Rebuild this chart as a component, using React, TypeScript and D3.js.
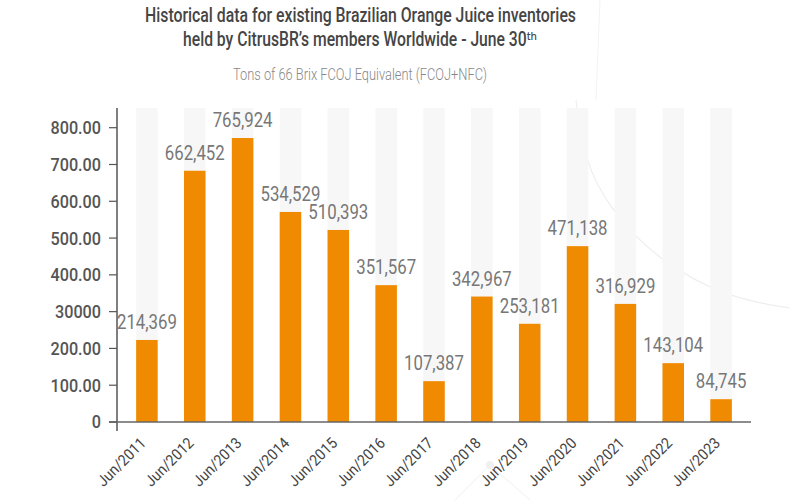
import React from "react";
import * as d3 from "d3";

const categories = ["Jun/2011","Jun/2012","Jun/2013","Jun/2014","Jun/2015","Jun/2016","Jun/2017","Jun/2018","Jun/2019","Jun/2020","Jun/2021","Jun/2022","Jun/2023"];
// bar heights as drawn (axis units)
const barValues = [223, 683, 772, 571, 522, 372, 111, 341, 267, 478, 321, 160, 62];
// value labels as printed
const valueLabels = ["214,369","662,452","765,924","534,529","510,393","351,567","107,387","342,967","253,181","471,138","316,929","143,104","84,745"];
const yTicks = [0, 100, 200, 300, 400, 500, 600, 700, 800];
const yTickLabels = ["0","100.00","200.00","30000","400.00","500.00","600.00","700.00","800.00"];

const titleLines = ["Historical data for existing Brazilian Orange Juice inventories", "held by CitrusBR\u2019s members Worldwide - June 30\u1D57\u02B0"];
const subtitle = "Tons of 66 Brix FCOJ Equivalent (FCOJ+NFC)";

const W = 800, H = 500;
const margin = { left: 117, right: 49, top: 108, bottom: 78 };
const font = "Roboto, 'Noto Sans', 'DejaVu Sans', sans-serif";

export default function App() {
  const x = d3.scaleBand<string>().domain(categories).range([margin.left, W - margin.right]).paddingInner(0.55).paddingOuter(0.4);
  const y = d3.scaleLinear().domain([0, 800]).range([422, 127.7]);
  const bandTop = margin.top;
  const arc = d3.line<[number, number]>().curve(d3.curveBasis)([[576, 100], [584, 160], [610, 210], [660, 262], [728, 298], [790, 308]]);

  return (
    <svg width={W} height={H} style={{ position: "absolute", left: 0, top: 0, background: "#fff" }}>
      <rect width={W} height={H} fill="#fff" />
      <path d={arc || ""} fill="none" stroke="#eeeeee" strokeWidth={1.2} />
      <line x1={600} y1={0} x2={596} y2={100} stroke="#f2f2f2" strokeWidth={1} />
      <line x1={455} y1={500} x2={490} y2={465} stroke="#f0f0f0" strokeWidth={1} />
      <line x1={490} y1={465} x2={530} y2={500} stroke="#f0f0f0" strokeWidth={1} />
      <circle cx={490} cy={465} r={4} fill="#f0f0f0" />

      {/* title */}
      <text x={145} y={22} textLength={431} lengthAdjust="spacingAndGlyphs" fontFamily={font} fontWeight={500} fontSize={20} fill="#454545">{titleLines[0]}</text>
      <text x={183} y={46} textLength={354} lengthAdjust="spacingAndGlyphs" fontFamily={font} fontWeight={500} fontSize={20} fill="#454545">{titleLines[1]}</text>
      <text x={233} y={80} textLength={254} lengthAdjust="spacingAndGlyphs" fontFamily={font} fontWeight={300} fontSize={16} fill="#888">{subtitle}</text>

      {/* background bands */}
      {categories.map((c) => (
        <rect key={"bg" + c} x={x(c)} y={bandTop} width={x.bandwidth()} height={y(0) - bandTop} fill="#f7f7f7" />
      ))}
      {/* bars */}
      {categories.map((c, i) => (
        <rect key={"b" + c} x={x(c)} y={y(barValues[i])} width={x.bandwidth()} height={y(0) - y(barValues[i])} fill="#f08a00" />
      ))}
      {/* value labels */}
      {categories.map((c, i) => (
        <text key={"v" + c} transform={`translate(${(x(c) as number) + x.bandwidth() / 2},${y(barValues[i]) - 11}) scale(0.8,1)`} textAnchor="middle"
          fontFamily={font} fontSize={21} fill="#777">{valueLabels[i]}</text>
      ))}

      {/* axes */}
      <line x1={margin.left} y1={bandTop} x2={margin.left} y2={431} stroke="#555" strokeWidth={1.5} />
      <line x1={109} y1={y(0)} x2={W - margin.right} y2={y(0)} stroke="#666" strokeWidth={1.5} />
      {yTicks.map((t, i) => (
        <g key={"yt" + t}>
          <line x1={109} x2={margin.left} y1={y(t)} y2={y(t)} stroke="#555" strokeWidth={1.2} />
          <text transform={`translate(101,${y(t)}) scale(0.9,1)`} dy="0.36em" textAnchor="end" fontFamily={font} fontSize={18} fontWeight={500} fill="#555">{yTickLabels[i]}</text>
        </g>
      ))}
      {categories.map((c) => {
        const cx = (x(c) as number) + x.bandwidth() / 2;
        return (
          <text key={"xt" + c} transform={`translate(${cx},${444}) rotate(-45) scale(0.92,1)`} textAnchor="end"
            fontFamily={font} fontSize={15.5} fill="#444">{c}</text>
        );
      })}
    </svg>
  );
}
